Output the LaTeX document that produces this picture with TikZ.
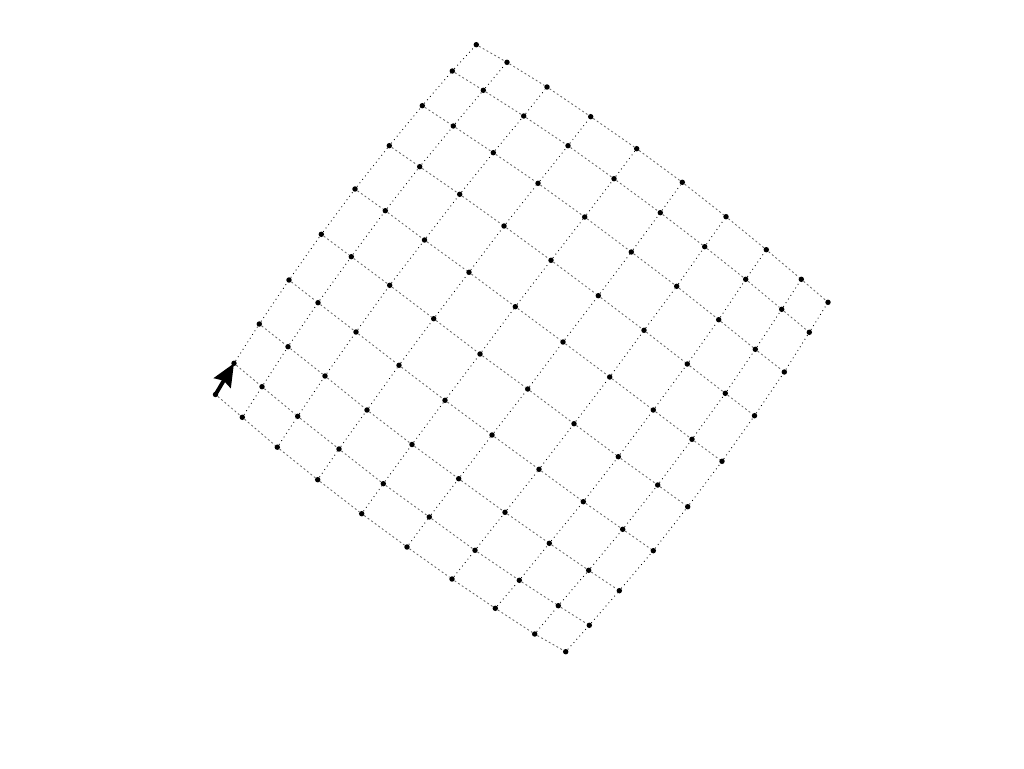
\documentclass[tikz,border=0pt]{standalone}
\usepackage{tikz}
\usetikzlibrary{arrows.meta,backgrounds}

\begin{document}
\begin{tikzpicture}[
  x=0.02cm, y=-0.02cm,
  dot/.style={
    circle,
    fill=black,
    inner sep=0pt,
    minimum size=3.1pt
  },
  upline/.style={draw=black, line width=0.5pt, dotted},
  downline/.style={draw=black!60, line width=0.5pt, dash pattern=on 1.1pt off 1.4pt},
  arrow/.style={-{Stealth[length=13pt,width=11pt,inset=1.5pt]}, line width=2.2pt, line cap=round}
]

\useasboundingbox (0,0) rectangle (1024,768);

% Grid points, ten per row, rows j = 0..9
\foreach \px/\py [count=\n from 0,
    evaluate=\n as \i using {int(mod(\n,10))},
    evaluate=\n as \j using {int(\n/10)}] in {
  215.5/394.5, 242.3/417.3, 277.3/447.2, 317.7/479.7, 361.7/513.7, 407/547, 452/579, 495.3/608.3, 534.7/634, 565.7/651.7,
  234/363.3, 262/386.7, 297.7/416.3, 339/449, 383.3/483.7, 429.3/517, 475/550.3, 519.3/580.3, 558.3/605.7, 589.3/625.3,
  259.3/324, 288/346.7, 325/376, 367/410, 412/444.5, 458.7/478.7, 505/512.3, 549.3/543.3, 588.7/570.3, 619.3/590.7,
  289/280, 318/302.7, 356/332, 399/365.3, 445/400.3, 492/435, 539/469.3, 583.3/501.7, 622.7/529.3, 653.3/550.7,
  321.3/234.3, 351.3/256.7, 389.7/285.3, 433.7/318.7, 480/354, 527.7/389, 574/423.7, 618.3/456.7, 657.7/485, 687.7/506.7,
  355/189, 385.3/210.7, 424.5/240, 469/272.3, 515.3/306.7, 563/342, 609.7/377, 653.3/410, 692/439.3, 722/461.3,
  389.3/145.7, 419.7/166.7, 459.7/194.3, 504/226, 551/260.3, 598.3/295.7, 644/330.3, 687.3/364, 725.3/393.3, 754.5/415.7,
  422.3/105.7, 453.3/126, 493.3/152.7, 538/183.3, 584.7/217, 631.3/252, 676.7/286.3, 718.7/319.7, 755.3/349.3, 784.3/372,
  452.3/71, 483.3/90.3, 523.7/116, 568/145.7, 614/178.7, 660.3/212.7, 704.7/246.7, 745.7/279.3, 781.7/309.3, 809.3/332.3,
  476.3/44.7, 507/62.3, 547/87, 590.7/116.7, 636.7/148.7, 682.3/182.3, 726/216.7, 766.3/249.7, 801.3/279.3, 828/302.3}
  \node[dot] (p-\i-\j) at (\px,\py) {};

% Connections
\begin{scope}[on background layer]
  \foreach \i in {0,...,9}
    \foreach \j [count=\k from 1] in {0,...,8} {
      \draw[upline] (p-\i-\j) -- (p-\i-\k);
      \draw[downline] (p-\j-\i) -- (p-\k-\i);
    }
\end{scope}

% Direction marker
\draw[arrow] (p-0-0.center) -- (p-0-1.center);

\end{tikzpicture}
\end{document}
